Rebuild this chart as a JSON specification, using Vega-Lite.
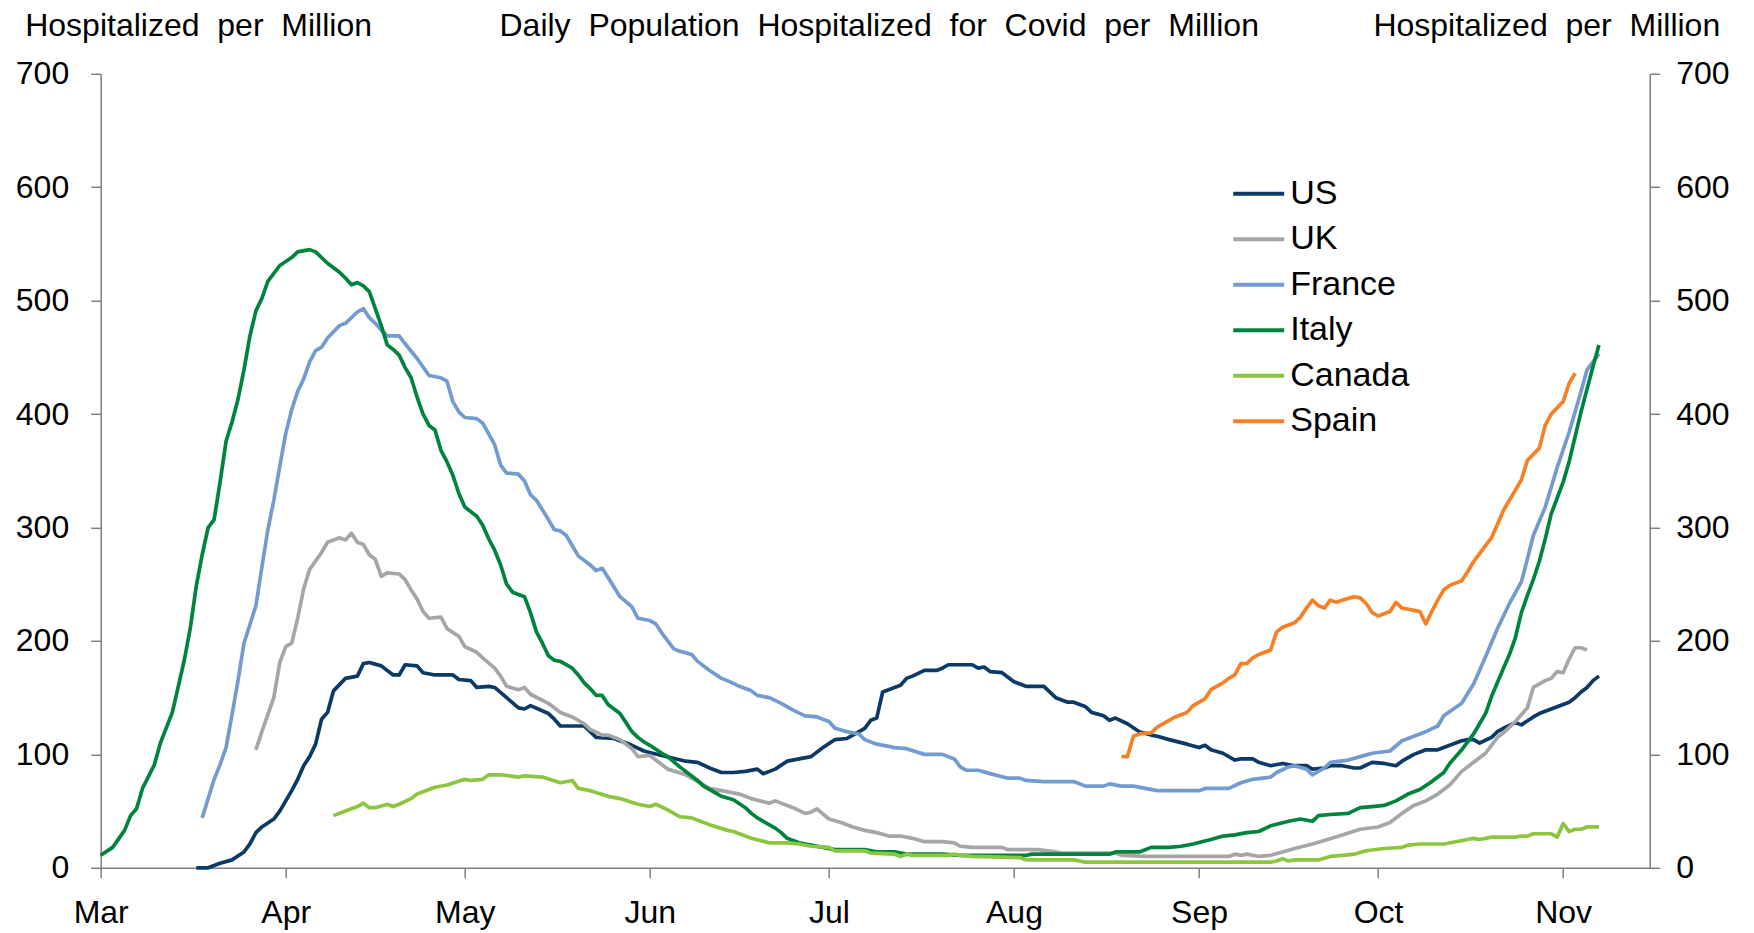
{
  "$schema": "https://vega.github.io/schema/vega-lite/v6.json",
  "width": 1549,
  "height": 794,
  "autosize": {"type": "none"},
  "padding": {"left": 100.7, "top": 73.8, "right": 104.3, "bottom": 65.2},
  "background": "white",
  "config": {"view": {"stroke": null}, "font": "Liberation Sans"},
  "data": {"values": [
    {"country":"US","date":"2020-03-17","value":0},{"country":"US","date":"2020-03-19","value":0},{"country":"US","date":"2020-03-21","value":4},{"country":"US","date":"2020-03-23","value":7},{"country":"US","date":"2020-03-25","value":14},{"country":"US","date":"2020-03-26","value":21},{"country":"US","date":"2020-03-27","value":31},{"country":"US","date":"2020-03-28","value":36},{"country":"US","date":"2020-03-30","value":43},{"country":"US","date":"2020-03-31","value":50},
    {"country":"US","date":"2020-04-01","value":59},{"country":"US","date":"2020-04-02","value":68},{"country":"US","date":"2020-04-03","value":78},{"country":"US","date":"2020-04-04","value":90},{"country":"US","date":"2020-04-05","value":98},{"country":"US","date":"2020-04-06","value":109},{"country":"US","date":"2020-04-07","value":131},{"country":"US","date":"2020-04-08","value":137},{"country":"US","date":"2020-04-09","value":156},{"country":"US","date":"2020-04-11","value":167},{"country":"US","date":"2020-04-13","value":169},{"country":"US","date":"2020-04-14","value":180},{"country":"US","date":"2020-04-15","value":181},{"country":"US","date":"2020-04-17","value":178},{"country":"US","date":"2020-04-19","value":170},{"country":"US","date":"2020-04-20","value":170},{"country":"US","date":"2020-04-21","value":179},{"country":"US","date":"2020-04-23","value":178},{"country":"US","date":"2020-04-24","value":172},{"country":"US","date":"2020-04-26","value":170},{"country":"US","date":"2020-04-29","value":170},{"country":"US","date":"2020-04-30","value":166},
    {"country":"US","date":"2020-05-02","value":165},{"country":"US","date":"2020-05-03","value":159},{"country":"US","date":"2020-05-05","value":160},{"country":"US","date":"2020-05-06","value":159},{"country":"US","date":"2020-05-08","value":150},{"country":"US","date":"2020-05-10","value":141},{"country":"US","date":"2020-05-11","value":140},{"country":"US","date":"2020-05-12","value":143},{"country":"US","date":"2020-05-15","value":136},{"country":"US","date":"2020-05-16","value":131},{"country":"US","date":"2020-05-17","value":125},{"country":"US","date":"2020-05-21","value":125},{"country":"US","date":"2020-05-23","value":115},{"country":"US","date":"2020-05-26","value":114},{"country":"US","date":"2020-05-29","value":108},{"country":"US","date":"2020-05-31","value":103},
    {"country":"US","date":"2020-06-03","value":99},{"country":"US","date":"2020-06-07","value":94},{"country":"US","date":"2020-06-09","value":93},{"country":"US","date":"2020-06-11","value":88},{"country":"US","date":"2020-06-13","value":84},{"country":"US","date":"2020-06-15","value":84},{"country":"US","date":"2020-06-17","value":85},{"country":"US","date":"2020-06-19","value":87},{"country":"US","date":"2020-06-20","value":83},{"country":"US","date":"2020-06-22","value":87},{"country":"US","date":"2020-06-24","value":94},{"country":"US","date":"2020-06-26","value":96},{"country":"US","date":"2020-06-28","value":98},{"country":"US","date":"2020-06-30","value":106},
    {"country":"US","date":"2020-07-02","value":113},{"country":"US","date":"2020-07-04","value":114},{"country":"US","date":"2020-07-05","value":117},{"country":"US","date":"2020-07-07","value":123},{"country":"US","date":"2020-07-08","value":130},{"country":"US","date":"2020-07-09","value":132},{"country":"US","date":"2020-07-10","value":155},{"country":"US","date":"2020-07-11","value":157},{"country":"US","date":"2020-07-13","value":161},{"country":"US","date":"2020-07-14","value":167},{"country":"US","date":"2020-07-15","value":169},{"country":"US","date":"2020-07-17","value":174},{"country":"US","date":"2020-07-19","value":174},{"country":"US","date":"2020-07-20","value":176},{"country":"US","date":"2020-07-21","value":179},{"country":"US","date":"2020-07-25","value":179},{"country":"US","date":"2020-07-26","value":176},{"country":"US","date":"2020-07-27","value":177},{"country":"US","date":"2020-07-28","value":173},{"country":"US","date":"2020-07-30","value":172},{"country":"US","date":"2020-07-31","value":168},
    {"country":"US","date":"2020-08-01","value":164},{"country":"US","date":"2020-08-03","value":160},{"country":"US","date":"2020-08-06","value":160},{"country":"US","date":"2020-08-08","value":150},{"country":"US","date":"2020-08-10","value":146},{"country":"US","date":"2020-08-11","value":146},{"country":"US","date":"2020-08-13","value":142},{"country":"US","date":"2020-08-14","value":137},{"country":"US","date":"2020-08-16","value":134},{"country":"US","date":"2020-08-17","value":130},{"country":"US","date":"2020-08-18","value":132},{"country":"US","date":"2020-08-20","value":127},{"country":"US","date":"2020-08-22","value":120},{"country":"US","date":"2020-08-24","value":117},{"country":"US","date":"2020-08-25","value":116},{"country":"US","date":"2020-08-27","value":113},{"country":"US","date":"2020-08-30","value":109},
    {"country":"US","date":"2020-09-01","value":106},{"country":"US","date":"2020-09-02","value":108},{"country":"US","date":"2020-09-03","value":104},{"country":"US","date":"2020-09-05","value":101},{"country":"US","date":"2020-09-07","value":95},{"country":"US","date":"2020-09-08","value":96},{"country":"US","date":"2020-09-10","value":96},{"country":"US","date":"2020-09-11","value":93},{"country":"US","date":"2020-09-13","value":90},{"country":"US","date":"2020-09-15","value":92},{"country":"US","date":"2020-09-17","value":90},{"country":"US","date":"2020-09-19","value":90},{"country":"US","date":"2020-09-20","value":87},{"country":"US","date":"2020-09-22","value":88},{"country":"US","date":"2020-09-23","value":90},{"country":"US","date":"2020-09-25","value":90},{"country":"US","date":"2020-09-27","value":88},{"country":"US","date":"2020-09-28","value":88},{"country":"US","date":"2020-09-30","value":93},
    {"country":"US","date":"2020-10-02","value":92},{"country":"US","date":"2020-10-04","value":90},{"country":"US","date":"2020-10-05","value":94},{"country":"US","date":"2020-10-07","value":100},{"country":"US","date":"2020-10-09","value":104},{"country":"US","date":"2020-10-11","value":104},{"country":"US","date":"2020-10-13","value":108},{"country":"US","date":"2020-10-15","value":112},{"country":"US","date":"2020-10-16","value":113},{"country":"US","date":"2020-10-17","value":113},{"country":"US","date":"2020-10-18","value":110},{"country":"US","date":"2020-10-20","value":115},{"country":"US","date":"2020-10-21","value":120},{"country":"US","date":"2020-10-22","value":123},{"country":"US","date":"2020-10-24","value":128},{"country":"US","date":"2020-10-25","value":126},{"country":"US","date":"2020-10-27","value":133},{"country":"US","date":"2020-10-28","value":136},{"country":"US","date":"2020-10-30","value":140},{"country":"US","date":"2020-10-31","value":142},
    {"country":"US","date":"2020-11-02","value":146},{"country":"US","date":"2020-11-03","value":150},{"country":"US","date":"2020-11-04","value":155},{"country":"US","date":"2020-11-05","value":159},{"country":"US","date":"2020-11-06","value":165},{"country":"US","date":"2020-11-07","value":169},

    {"country":"UK","date":"2020-03-27","value":104},{"country":"UK","date":"2020-03-28","value":120},{"country":"UK","date":"2020-03-30","value":150},{"country":"UK","date":"2020-03-31","value":181},
    {"country":"UK","date":"2020-04-01","value":195},{"country":"UK","date":"2020-04-02","value":198},{"country":"UK","date":"2020-04-03","value":220},{"country":"UK","date":"2020-04-04","value":246},{"country":"UK","date":"2020-04-05","value":263},{"country":"UK","date":"2020-04-07","value":278},{"country":"UK","date":"2020-04-08","value":287},{"country":"UK","date":"2020-04-10","value":291},{"country":"UK","date":"2020-04-11","value":289},{"country":"UK","date":"2020-04-12","value":295},{"country":"UK","date":"2020-04-13","value":287},{"country":"UK","date":"2020-04-14","value":285},{"country":"UK","date":"2020-04-15","value":276},{"country":"UK","date":"2020-04-16","value":272},{"country":"UK","date":"2020-04-17","value":257},{"country":"UK","date":"2020-04-18","value":260},{"country":"UK","date":"2020-04-20","value":259},{"country":"UK","date":"2020-04-21","value":254},{"country":"UK","date":"2020-04-22","value":245},{"country":"UK","date":"2020-04-23","value":237},{"country":"UK","date":"2020-04-24","value":226},{"country":"UK","date":"2020-04-25","value":220},{"country":"UK","date":"2020-04-27","value":221},{"country":"UK","date":"2020-04-28","value":211},{"country":"UK","date":"2020-04-30","value":204},
    {"country":"UK","date":"2020-05-01","value":195},{"country":"UK","date":"2020-05-03","value":190},{"country":"UK","date":"2020-05-04","value":185},{"country":"UK","date":"2020-05-06","value":176},{"country":"UK","date":"2020-05-07","value":169},{"country":"UK","date":"2020-05-08","value":160},{"country":"UK","date":"2020-05-10","value":157},{"country":"UK","date":"2020-05-11","value":159},{"country":"UK","date":"2020-05-12","value":153},{"country":"UK","date":"2020-05-15","value":145},{"country":"UK","date":"2020-05-17","value":137},{"country":"UK","date":"2020-05-19","value":133},{"country":"UK","date":"2020-05-21","value":127},{"country":"UK","date":"2020-05-22","value":122},{"country":"UK","date":"2020-05-24","value":117},{"country":"UK","date":"2020-05-25","value":117},{"country":"UK","date":"2020-05-27","value":113},{"country":"UK","date":"2020-05-29","value":105},{"country":"UK","date":"2020-05-30","value":98},
    {"country":"UK","date":"2020-06-01","value":99},{"country":"UK","date":"2020-06-02","value":95},{"country":"UK","date":"2020-06-04","value":87},{"country":"UK","date":"2020-06-07","value":82},{"country":"UK","date":"2020-06-08","value":79},{"country":"UK","date":"2020-06-11","value":70},{"country":"UK","date":"2020-06-13","value":68},{"country":"UK","date":"2020-06-16","value":65},{"country":"UK","date":"2020-06-18","value":61},{"country":"UK","date":"2020-06-21","value":57},{"country":"UK","date":"2020-06-22","value":59},{"country":"UK","date":"2020-06-25","value":53},{"country":"UK","date":"2020-06-27","value":48},{"country":"UK","date":"2020-06-28","value":49},{"country":"UK","date":"2020-06-29","value":52},
    {"country":"UK","date":"2020-07-01","value":43},{"country":"UK","date":"2020-07-03","value":40},{"country":"UK","date":"2020-07-04","value":38},{"country":"UK","date":"2020-07-05","value":36},{"country":"UK","date":"2020-07-07","value":33},{"country":"UK","date":"2020-07-09","value":31},{"country":"UK","date":"2020-07-11","value":28},{"country":"UK","date":"2020-07-13","value":28},{"country":"UK","date":"2020-07-15","value":26},{"country":"UK","date":"2020-07-17","value":23},{"country":"UK","date":"2020-07-20","value":23},{"country":"UK","date":"2020-07-22","value":22},{"country":"UK","date":"2020-07-23","value":19},{"country":"UK","date":"2020-07-25","value":18},{"country":"UK","date":"2020-07-30","value":18},{"country":"UK","date":"2020-07-31","value":16},
    {"country":"UK","date":"2020-08-05","value":16},{"country":"UK","date":"2020-08-08","value":14},{"country":"UK","date":"2020-08-09","value":13},{"country":"UK","date":"2020-08-18","value":13},{"country":"UK","date":"2020-08-19","value":11},{"country":"UK","date":"2020-08-23","value":10},
    {"country":"UK","date":"2020-09-06","value":10},{"country":"UK","date":"2020-09-07","value":12},{"country":"UK","date":"2020-09-08","value":11},{"country":"UK","date":"2020-09-09","value":12},{"country":"UK","date":"2020-09-11","value":10},{"country":"UK","date":"2020-09-13","value":11},{"country":"UK","date":"2020-09-15","value":14},{"country":"UK","date":"2020-09-17","value":17},{"country":"UK","date":"2020-09-20","value":21},{"country":"UK","date":"2020-09-22","value":24},{"country":"UK","date":"2020-09-25","value":29},{"country":"UK","date":"2020-09-28","value":34},
    {"country":"UK","date":"2020-10-01","value":36},{"country":"UK","date":"2020-10-03","value":40},{"country":"UK","date":"2020-10-05","value":48},{"country":"UK","date":"2020-10-07","value":55},{"country":"UK","date":"2020-10-09","value":59},{"country":"UK","date":"2020-10-11","value":65},{"country":"UK","date":"2020-10-13","value":73},{"country":"UK","date":"2020-10-15","value":85},{"country":"UK","date":"2020-10-17","value":93},{"country":"UK","date":"2020-10-19","value":101},{"country":"UK","date":"2020-10-21","value":115},{"country":"UK","date":"2020-10-22","value":119},{"country":"UK","date":"2020-10-24","value":129},{"country":"UK","date":"2020-10-26","value":141},{"country":"UK","date":"2020-10-27","value":159},{"country":"UK","date":"2020-10-29","value":165},{"country":"UK","date":"2020-10-30","value":167},{"country":"UK","date":"2020-10-31","value":173},
    {"country":"UK","date":"2020-11-01","value":172},{"country":"UK","date":"2020-11-02","value":184},{"country":"UK","date":"2020-11-03","value":194},{"country":"UK","date":"2020-11-04","value":194},{"country":"UK","date":"2020-11-05","value":192},

    {"country":"France","date":"2020-03-18","value":44},{"country":"France","date":"2020-03-20","value":78},{"country":"France","date":"2020-03-21","value":91},{"country":"France","date":"2020-03-22","value":106},{"country":"France","date":"2020-03-23","value":135},{"country":"France","date":"2020-03-24","value":165},{"country":"France","date":"2020-03-25","value":198},{"country":"France","date":"2020-03-27","value":231},{"country":"France","date":"2020-03-28","value":265},{"country":"France","date":"2020-03-29","value":298},{"country":"France","date":"2020-03-30","value":324},{"country":"France","date":"2020-03-31","value":354},
    {"country":"France","date":"2020-04-01","value":383},{"country":"France","date":"2020-04-02","value":404},{"country":"France","date":"2020-04-03","value":420},{"country":"France","date":"2020-04-04","value":431},{"country":"France","date":"2020-04-05","value":446},{"country":"France","date":"2020-04-06","value":456},{"country":"France","date":"2020-04-07","value":459},{"country":"France","date":"2020-04-08","value":467},{"country":"France","date":"2020-04-10","value":478},{"country":"France","date":"2020-04-11","value":480},{"country":"France","date":"2020-04-13","value":490},{"country":"France","date":"2020-04-14","value":493},{"country":"France","date":"2020-04-15","value":485},{"country":"France","date":"2020-04-16","value":480},{"country":"France","date":"2020-04-17","value":474},{"country":"France","date":"2020-04-18","value":469},{"country":"France","date":"2020-04-20","value":469},{"country":"France","date":"2020-04-21","value":462},{"country":"France","date":"2020-04-23","value":449},{"country":"France","date":"2020-04-25","value":434},{"country":"France","date":"2020-04-27","value":432},{"country":"France","date":"2020-04-28","value":429},{"country":"France","date":"2020-04-29","value":411},{"country":"France","date":"2020-04-30","value":402},
    {"country":"France","date":"2020-05-01","value":397},{"country":"France","date":"2020-05-03","value":396},{"country":"France","date":"2020-05-04","value":392},{"country":"France","date":"2020-05-06","value":373},{"country":"France","date":"2020-05-07","value":355},{"country":"France","date":"2020-05-08","value":348},{"country":"France","date":"2020-05-10","value":347},{"country":"France","date":"2020-05-11","value":341},{"country":"France","date":"2020-05-12","value":329},{"country":"France","date":"2020-05-13","value":324},{"country":"France","date":"2020-05-15","value":307},{"country":"France","date":"2020-05-16","value":298},{"country":"France","date":"2020-05-17","value":297},{"country":"France","date":"2020-05-18","value":293},{"country":"France","date":"2020-05-20","value":275},{"country":"France","date":"2020-05-22","value":267},{"country":"France","date":"2020-05-23","value":262},{"country":"France","date":"2020-05-24","value":264},{"country":"France","date":"2020-05-25","value":256},{"country":"France","date":"2020-05-27","value":239},{"country":"France","date":"2020-05-29","value":230},{"country":"France","date":"2020-05-30","value":220},
    {"country":"France","date":"2020-06-01","value":218},{"country":"France","date":"2020-06-02","value":215},{"country":"France","date":"2020-06-03","value":207},{"country":"France","date":"2020-06-04","value":200},{"country":"France","date":"2020-06-05","value":193},{"country":"France","date":"2020-06-06","value":191},{"country":"France","date":"2020-06-08","value":188},{"country":"France","date":"2020-06-09","value":182},{"country":"France","date":"2020-06-11","value":174},{"country":"France","date":"2020-06-13","value":167},{"country":"France","date":"2020-06-14","value":165},{"country":"France","date":"2020-06-16","value":160},{"country":"France","date":"2020-06-18","value":156},{"country":"France","date":"2020-06-19","value":152},{"country":"France","date":"2020-06-21","value":150},{"country":"France","date":"2020-06-23","value":145},{"country":"France","date":"2020-06-25","value":139},{"country":"France","date":"2020-06-27","value":134},{"country":"France","date":"2020-06-29","value":133},
    {"country":"France","date":"2020-07-01","value":129},{"country":"France","date":"2020-07-02","value":123},{"country":"France","date":"2020-07-04","value":120},{"country":"France","date":"2020-07-06","value":118},{"country":"France","date":"2020-07-07","value":113},{"country":"France","date":"2020-07-09","value":109},{"country":"France","date":"2020-07-11","value":107},{"country":"France","date":"2020-07-12","value":106},{"country":"France","date":"2020-07-14","value":105},{"country":"France","date":"2020-07-17","value":100},{"country":"France","date":"2020-07-20","value":100},{"country":"France","date":"2020-07-22","value":96},{"country":"France","date":"2020-07-23","value":89},{"country":"France","date":"2020-07-24","value":86},{"country":"France","date":"2020-07-26","value":86},{"country":"France","date":"2020-07-28","value":83},{"country":"France","date":"2020-07-31","value":79},
    {"country":"France","date":"2020-08-02","value":79},{"country":"France","date":"2020-08-03","value":77},{"country":"France","date":"2020-08-06","value":76},{"country":"France","date":"2020-08-11","value":76},{"country":"France","date":"2020-08-13","value":72},{"country":"France","date":"2020-08-16","value":72},{"country":"France","date":"2020-08-17","value":74},{"country":"France","date":"2020-08-19","value":72},{"country":"France","date":"2020-08-21","value":72},{"country":"France","date":"2020-08-23","value":70},{"country":"France","date":"2020-08-25","value":68},
    {"country":"France","date":"2020-09-01","value":68},{"country":"France","date":"2020-09-02","value":70},{"country":"France","date":"2020-09-06","value":70},{"country":"France","date":"2020-09-08","value":75},{"country":"France","date":"2020-09-10","value":78},{"country":"France","date":"2020-09-13","value":80},{"country":"France","date":"2020-09-14","value":84},{"country":"France","date":"2020-09-16","value":89},{"country":"France","date":"2020-09-17","value":90},{"country":"France","date":"2020-09-19","value":87},{"country":"France","date":"2020-09-20","value":82},{"country":"France","date":"2020-09-22","value":88},{"country":"France","date":"2020-09-23","value":93},{"country":"France","date":"2020-09-26","value":95},{"country":"France","date":"2020-09-28","value":98},{"country":"France","date":"2020-09-30","value":101},
    {"country":"France","date":"2020-10-03","value":103},{"country":"France","date":"2020-10-05","value":112},{"country":"France","date":"2020-10-07","value":116},{"country":"France","date":"2020-10-09","value":120},{"country":"France","date":"2020-10-11","value":125},{"country":"France","date":"2020-10-12","value":134},{"country":"France","date":"2020-10-15","value":145},{"country":"France","date":"2020-10-17","value":162},{"country":"France","date":"2020-10-19","value":186},{"country":"France","date":"2020-10-21","value":211},{"country":"France","date":"2020-10-23","value":233},{"country":"France","date":"2020-10-25","value":252},{"country":"France","date":"2020-10-26","value":272},{"country":"France","date":"2020-10-27","value":293},{"country":"France","date":"2020-10-29","value":318},{"country":"France","date":"2020-10-31","value":353},
    {"country":"France","date":"2020-11-02","value":384},{"country":"France","date":"2020-11-04","value":420},{"country":"France","date":"2020-11-05","value":439},{"country":"France","date":"2020-11-07","value":453},

    {"country":"Italy","date":"2020-03-01","value":11},{"country":"Italy","date":"2020-03-03","value":18},{"country":"Italy","date":"2020-03-05","value":33},{"country":"Italy","date":"2020-03-06","value":46},{"country":"Italy","date":"2020-03-07","value":52},{"country":"Italy","date":"2020-03-08","value":70},{"country":"Italy","date":"2020-03-10","value":91},{"country":"Italy","date":"2020-03-11","value":110},{"country":"Italy","date":"2020-03-13","value":137},{"country":"Italy","date":"2020-03-14","value":160},{"country":"Italy","date":"2020-03-15","value":183},{"country":"Italy","date":"2020-03-16","value":211},{"country":"Italy","date":"2020-03-17","value":248},{"country":"Italy","date":"2020-03-18","value":276},{"country":"Italy","date":"2020-03-19","value":300},{"country":"Italy","date":"2020-03-20","value":307},{"country":"Italy","date":"2020-03-21","value":340},{"country":"Italy","date":"2020-03-22","value":376},{"country":"Italy","date":"2020-03-23","value":393},{"country":"Italy","date":"2020-03-24","value":413},{"country":"Italy","date":"2020-03-25","value":439},{"country":"Italy","date":"2020-03-26","value":469},{"country":"Italy","date":"2020-03-27","value":491},{"country":"Italy","date":"2020-03-28","value":502},{"country":"Italy","date":"2020-03-29","value":517},{"country":"Italy","date":"2020-03-31","value":531},
    {"country":"Italy","date":"2020-04-02","value":538},{"country":"Italy","date":"2020-04-03","value":543},{"country":"Italy","date":"2020-04-05","value":545},{"country":"Italy","date":"2020-04-06","value":543},{"country":"Italy","date":"2020-04-08","value":533},{"country":"Italy","date":"2020-04-10","value":525},{"country":"Italy","date":"2020-04-11","value":520},{"country":"Italy","date":"2020-04-12","value":514},{"country":"Italy","date":"2020-04-13","value":516},{"country":"Italy","date":"2020-04-14","value":513},{"country":"Italy","date":"2020-04-15","value":508},{"country":"Italy","date":"2020-04-17","value":478},{"country":"Italy","date":"2020-04-18","value":461},{"country":"Italy","date":"2020-04-19","value":457},{"country":"Italy","date":"2020-04-20","value":452},{"country":"Italy","date":"2020-04-21","value":441},{"country":"Italy","date":"2020-04-22","value":432},{"country":"Italy","date":"2020-04-23","value":415},{"country":"Italy","date":"2020-04-24","value":400},{"country":"Italy","date":"2020-04-25","value":390},{"country":"Italy","date":"2020-04-26","value":386},{"country":"Italy","date":"2020-04-27","value":368},{"country":"Italy","date":"2020-04-28","value":358},{"country":"Italy","date":"2020-04-29","value":346},{"country":"Italy","date":"2020-04-30","value":330},
    {"country":"Italy","date":"2020-05-01","value":318},{"country":"Italy","date":"2020-05-03","value":310},{"country":"Italy","date":"2020-05-04","value":302},{"country":"Italy","date":"2020-05-05","value":290},{"country":"Italy","date":"2020-05-06","value":280},{"country":"Italy","date":"2020-05-07","value":267},{"country":"Italy","date":"2020-05-08","value":250},{"country":"Italy","date":"2020-05-09","value":243},{"country":"Italy","date":"2020-05-11","value":239},{"country":"Italy","date":"2020-05-12","value":225},{"country":"Italy","date":"2020-05-13","value":208},{"country":"Italy","date":"2020-05-14","value":198},{"country":"Italy","date":"2020-05-15","value":187},{"country":"Italy","date":"2020-05-16","value":183},{"country":"Italy","date":"2020-05-17","value":182},{"country":"Italy","date":"2020-05-19","value":176},{"country":"Italy","date":"2020-05-20","value":170},{"country":"Italy","date":"2020-05-21","value":163},{"country":"Italy","date":"2020-05-22","value":158},{"country":"Italy","date":"2020-05-23","value":152},{"country":"Italy","date":"2020-05-24","value":152},{"country":"Italy","date":"2020-05-25","value":144},{"country":"Italy","date":"2020-05-27","value":136},{"country":"Italy","date":"2020-05-28","value":128},{"country":"Italy","date":"2020-05-29","value":120},{"country":"Italy","date":"2020-05-30","value":115},{"country":"Italy","date":"2020-05-31","value":111},
    {"country":"Italy","date":"2020-06-01","value":108},{"country":"Italy","date":"2020-06-03","value":101},{"country":"Italy","date":"2020-06-04","value":98},{"country":"Italy","date":"2020-06-06","value":89},{"country":"Italy","date":"2020-06-08","value":81},{"country":"Italy","date":"2020-06-09","value":77},{"country":"Italy","date":"2020-06-10","value":72},{"country":"Italy","date":"2020-06-12","value":66},{"country":"Italy","date":"2020-06-13","value":63},{"country":"Italy","date":"2020-06-15","value":60},{"country":"Italy","date":"2020-06-17","value":53},{"country":"Italy","date":"2020-06-18","value":48},{"country":"Italy","date":"2020-06-19","value":44},{"country":"Italy","date":"2020-06-20","value":41},{"country":"Italy","date":"2020-06-22","value":35},{"country":"Italy","date":"2020-06-23","value":31},{"country":"Italy","date":"2020-06-24","value":26},{"country":"Italy","date":"2020-06-26","value":22},{"country":"Italy","date":"2020-06-28","value":20},{"country":"Italy","date":"2020-06-30","value":18},
    {"country":"Italy","date":"2020-07-02","value":16},{"country":"Italy","date":"2020-07-07","value":16},{"country":"Italy","date":"2020-07-09","value":14},{"country":"Italy","date":"2020-07-12","value":14},{"country":"Italy","date":"2020-07-14","value":12},{"country":"Italy","date":"2020-07-20","value":12},{"country":"Italy","date":"2020-07-23","value":11},
    {"country":"Italy","date":"2020-08-03","value":11},{"country":"Italy","date":"2020-08-04","value":12},{"country":"Italy","date":"2020-08-17","value":12},{"country":"Italy","date":"2020-08-18","value":14},{"country":"Italy","date":"2020-08-22","value":14},{"country":"Italy","date":"2020-08-24","value":18},{"country":"Italy","date":"2020-08-27","value":18},{"country":"Italy","date":"2020-08-29","value":19},{"country":"Italy","date":"2020-08-31","value":21},
    {"country":"Italy","date":"2020-09-03","value":25},{"country":"Italy","date":"2020-09-05","value":28},{"country":"Italy","date":"2020-09-07","value":29},{"country":"Italy","date":"2020-09-09","value":31},{"country":"Italy","date":"2020-09-11","value":32},{"country":"Italy","date":"2020-09-13","value":37},{"country":"Italy","date":"2020-09-16","value":41},{"country":"Italy","date":"2020-09-18","value":43},{"country":"Italy","date":"2020-09-20","value":41},{"country":"Italy","date":"2020-09-21","value":46},{"country":"Italy","date":"2020-09-23","value":47},{"country":"Italy","date":"2020-09-26","value":48},{"country":"Italy","date":"2020-09-28","value":53},{"country":"Italy","date":"2020-09-30","value":54},
    {"country":"Italy","date":"2020-10-02","value":55},{"country":"Italy","date":"2020-10-04","value":59},{"country":"Italy","date":"2020-10-06","value":65},{"country":"Italy","date":"2020-10-08","value":69},{"country":"Italy","date":"2020-10-10","value":76},{"country":"Italy","date":"2020-10-12","value":84},{"country":"Italy","date":"2020-10-13","value":92},{"country":"Italy","date":"2020-10-15","value":104},{"country":"Italy","date":"2020-10-17","value":118},{"country":"Italy","date":"2020-10-19","value":136},{"country":"Italy","date":"2020-10-20","value":151},{"country":"Italy","date":"2020-10-22","value":176},{"country":"Italy","date":"2020-10-23","value":188},{"country":"Italy","date":"2020-10-24","value":203},{"country":"Italy","date":"2020-10-25","value":225},{"country":"Italy","date":"2020-10-26","value":240},{"country":"Italy","date":"2020-10-27","value":254},{"country":"Italy","date":"2020-10-28","value":270},{"country":"Italy","date":"2020-10-29","value":290},{"country":"Italy","date":"2020-10-30","value":312},{"country":"Italy","date":"2020-10-31","value":326},
    {"country":"Italy","date":"2020-11-01","value":340},{"country":"Italy","date":"2020-11-02","value":358},{"country":"Italy","date":"2020-11-03","value":380},{"country":"Italy","date":"2020-11-04","value":402},{"country":"Italy","date":"2020-11-05","value":422},{"country":"Italy","date":"2020-11-06","value":442},{"country":"Italy","date":"2020-11-07","value":461},

    {"country":"Canada","date":"2020-04-09","value":46},{"country":"Canada","date":"2020-04-11","value":50},{"country":"Canada","date":"2020-04-13","value":54},{"country":"Canada","date":"2020-04-14","value":57},{"country":"Canada","date":"2020-04-15","value":53},{"country":"Canada","date":"2020-04-16","value":53},{"country":"Canada","date":"2020-04-18","value":56},{"country":"Canada","date":"2020-04-19","value":54},{"country":"Canada","date":"2020-04-20","value":56},{"country":"Canada","date":"2020-04-22","value":61},{"country":"Canada","date":"2020-04-23","value":65},{"country":"Canada","date":"2020-04-26","value":71},{"country":"Canada","date":"2020-04-28","value":73},
    {"country":"Canada","date":"2020-05-01","value":78},{"country":"Canada","date":"2020-05-02","value":77},{"country":"Canada","date":"2020-05-04","value":78},{"country":"Canada","date":"2020-05-05","value":82},{"country":"Canada","date":"2020-05-07","value":82},{"country":"Canada","date":"2020-05-10","value":80},{"country":"Canada","date":"2020-05-11","value":81},{"country":"Canada","date":"2020-05-14","value":80},{"country":"Canada","date":"2020-05-17","value":75},{"country":"Canada","date":"2020-05-19","value":77},{"country":"Canada","date":"2020-05-20","value":70},{"country":"Canada","date":"2020-05-22","value":68},{"country":"Canada","date":"2020-05-25","value":63},{"country":"Canada","date":"2020-05-27","value":61},{"country":"Canada","date":"2020-05-30","value":56},
    {"country":"Canada","date":"2020-06-01","value":54},{"country":"Canada","date":"2020-06-02","value":56},{"country":"Canada","date":"2020-06-04","value":51},{"country":"Canada","date":"2020-06-06","value":45},{"country":"Canada","date":"2020-06-08","value":44},{"country":"Canada","date":"2020-06-11","value":38},{"country":"Canada","date":"2020-06-14","value":33},{"country":"Canada","date":"2020-06-15","value":32},{"country":"Canada","date":"2020-06-18","value":26},{"country":"Canada","date":"2020-06-21","value":22},{"country":"Canada","date":"2020-06-24","value":22},{"country":"Canada","date":"2020-06-26","value":21},{"country":"Canada","date":"2020-06-28","value":19},
    {"country":"Canada","date":"2020-07-01","value":18},{"country":"Canada","date":"2020-07-02","value":15},{"country":"Canada","date":"2020-07-07","value":15},{"country":"Canada","date":"2020-07-08","value":13},{"country":"Canada","date":"2020-07-12","value":12},{"country":"Canada","date":"2020-07-13","value":10},{"country":"Canada","date":"2020-07-14","value":12},{"country":"Canada","date":"2020-07-15","value":11},{"country":"Canada","date":"2020-07-21","value":11},{"country":"Canada","date":"2020-07-22","value":12},{"country":"Canada","date":"2020-07-23","value":11},{"country":"Canada","date":"2020-07-25","value":10},
    {"country":"Canada","date":"2020-08-02","value":9},{"country":"Canada","date":"2020-08-03","value":7},{"country":"Canada","date":"2020-08-11","value":7},{"country":"Canada","date":"2020-08-13","value":5},
    {"country":"Canada","date":"2020-09-13","value":5},{"country":"Canada","date":"2020-09-14","value":6},{"country":"Canada","date":"2020-09-15","value":8},{"country":"Canada","date":"2020-09-16","value":6},{"country":"Canada","date":"2020-09-17","value":7},{"country":"Canada","date":"2020-09-21","value":7},{"country":"Canada","date":"2020-09-23","value":10},{"country":"Canada","date":"2020-09-25","value":11},{"country":"Canada","date":"2020-09-27","value":12},{"country":"Canada","date":"2020-09-29","value":15},
    {"country":"Canada","date":"2020-10-02","value":17},{"country":"Canada","date":"2020-10-05","value":18},{"country":"Canada","date":"2020-10-06","value":20},{"country":"Canada","date":"2020-10-08","value":21},{"country":"Canada","date":"2020-10-12","value":21},{"country":"Canada","date":"2020-10-14","value":23},{"country":"Canada","date":"2020-10-16","value":25},{"country":"Canada","date":"2020-10-17","value":26},{"country":"Canada","date":"2020-10-18","value":25},{"country":"Canada","date":"2020-10-20","value":27},{"country":"Canada","date":"2020-10-24","value":27},{"country":"Canada","date":"2020-10-25","value":28},{"country":"Canada","date":"2020-10-26","value":28},{"country":"Canada","date":"2020-10-27","value":30},{"country":"Canada","date":"2020-10-30","value":30},{"country":"Canada","date":"2020-10-31","value":27},
    {"country":"Canada","date":"2020-11-01","value":39},{"country":"Canada","date":"2020-11-02","value":32},{"country":"Canada","date":"2020-11-03","value":34},{"country":"Canada","date":"2020-11-04","value":34},{"country":"Canada","date":"2020-11-05","value":36},{"country":"Canada","date":"2020-11-07","value":36},

    {"country":"Spain","date":"2020-08-19","value":98},{"country":"Spain","date":"2020-08-20","value":98},{"country":"Spain","date":"2020-08-21","value":116},{"country":"Spain","date":"2020-08-22","value":118},{"country":"Spain","date":"2020-08-24","value":119},{"country":"Spain","date":"2020-08-25","value":124},{"country":"Spain","date":"2020-08-27","value":130},{"country":"Spain","date":"2020-08-28","value":133},{"country":"Spain","date":"2020-08-30","value":137},{"country":"Spain","date":"2020-08-31","value":143},
    {"country":"Spain","date":"2020-09-02","value":149},{"country":"Spain","date":"2020-09-03","value":157},{"country":"Spain","date":"2020-09-05","value":163},{"country":"Spain","date":"2020-09-06","value":167},{"country":"Spain","date":"2020-09-07","value":170},{"country":"Spain","date":"2020-09-08","value":180},{"country":"Spain","date":"2020-09-09","value":180},{"country":"Spain","date":"2020-09-10","value":185},{"country":"Spain","date":"2020-09-11","value":188},{"country":"Spain","date":"2020-09-13","value":192},{"country":"Spain","date":"2020-09-14","value":208},{"country":"Spain","date":"2020-09-15","value":212},{"country":"Spain","date":"2020-09-17","value":216},{"country":"Spain","date":"2020-09-18","value":221},{"country":"Spain","date":"2020-09-19","value":229},{"country":"Spain","date":"2020-09-20","value":236},{"country":"Spain","date":"2020-09-21","value":231},{"country":"Spain","date":"2020-09-22","value":229},{"country":"Spain","date":"2020-09-23","value":236},{"country":"Spain","date":"2020-09-24","value":234},{"country":"Spain","date":"2020-09-25","value":236},{"country":"Spain","date":"2020-09-27","value":239},{"country":"Spain","date":"2020-09-28","value":238},{"country":"Spain","date":"2020-09-29","value":233},{"country":"Spain","date":"2020-09-30","value":225},
    {"country":"Spain","date":"2020-10-01","value":222},{"country":"Spain","date":"2020-10-03","value":226},{"country":"Spain","date":"2020-10-04","value":234},{"country":"Spain","date":"2020-10-05","value":229},{"country":"Spain","date":"2020-10-07","value":227},{"country":"Spain","date":"2020-10-08","value":226},{"country":"Spain","date":"2020-10-09","value":215},{"country":"Spain","date":"2020-10-10","value":226},{"country":"Spain","date":"2020-10-11","value":236},{"country":"Spain","date":"2020-10-12","value":245},{"country":"Spain","date":"2020-10-13","value":249},{"country":"Spain","date":"2020-10-15","value":253},{"country":"Spain","date":"2020-10-16","value":261},{"country":"Spain","date":"2020-10-17","value":270},{"country":"Spain","date":"2020-10-20","value":291},{"country":"Spain","date":"2020-10-22","value":315},{"country":"Spain","date":"2020-10-25","value":342},{"country":"Spain","date":"2020-10-26","value":359},{"country":"Spain","date":"2020-10-28","value":370},{"country":"Spain","date":"2020-10-29","value":390},{"country":"Spain","date":"2020-10-30","value":400},
    {"country":"Spain","date":"2020-11-01","value":411},{"country":"Spain","date":"2020-11-02","value":427},{"country":"Spain","date":"2020-11-03","value":436}
  ]},
  "encoding": {
    "x": {
      "field": "date", "type": "temporal",
      "scale": {"type": "utc", "domain": [{"year": 2020, "month": 3, "date": 1, "utc": true}, {"year": 2020, "month": 11, "date": 15, "hours": 12, "utc": true}]},
      "axis": {
        "values": [
          {"year": 2020, "month": 3, "date": 1, "utc": true},
          {"year": 2020, "month": 4, "date": 1, "utc": true},
          {"year": 2020, "month": 5, "date": 1, "utc": true},
          {"year": 2020, "month": 6, "date": 1, "utc": true},
          {"year": 2020, "month": 7, "date": 1, "utc": true},
          {"year": 2020, "month": 8, "date": 1, "utc": true},
          {"year": 2020, "month": 9, "date": 1, "utc": true},
          {"year": 2020, "month": 10, "date": 1, "utc": true},
          {"year": 2020, "month": 11, "date": 1, "utc": true}
        ],
        "labelExpr": "utcFormat(datum.value, '%b')",
        "grid": false,
        "domainColor": "#7f7f7f", "domainWidth": 1.5,
        "tickColor": "#7f7f7f", "tickWidth": 1.5, "tickSize": 10,
        "labelFont": "Liberation Sans", "labelFontSize": 32, "labelColor": "#000000", "labelPadding": 20,
        "labelFlush": false, "labelOverlap": false,
        "title": "Daily\u00a0 Population\u00a0 Hospitalized\u00a0 for\u00a0 Covid\u00a0 per\u00a0 Million",
        "titleFont": "Liberation Sans", "titleFontSize": 32, "titleFontWeight": "normal", "titleColor": "#000000",
        "titleX": 778, "titleY": -832, "titleAlign": "center", "titleBaseline": "alphabetic", "titleAnchor": null
      }
    }
  },
  "layer": [
    {
      "mark": {"type": "line", "strokeWidth": 3.7, "strokeJoin": "round", "strokeCap": "butt"},
      "encoding": {
        "y": {
          "field": "value", "type": "quantitative",
          "scale": {"domain": [0, 700], "nice": false, "zero": true},
          "axis": {
            "orient": "left",
            "values": [0, 100, 200, 300, 400, 500, 600, 700],
            "grid": false,
            "domainColor": "#7f7f7f", "domainWidth": 1.5,
            "tickColor": "#7f7f7f", "tickWidth": 1.5, "tickSize": 10,
            "labelFont": "Liberation Sans", "labelFontSize": 32, "labelColor": "#000000", "labelPadding": 22,
            "labelFlush": false, "labelOverlap": false,
            "title": "Hospitalized\u00a0 per\u00a0 Million",
            "titleFont": "Liberation Sans", "titleFontSize": 32, "titleFontWeight": "normal", "titleColor": "#000000",
            "titleAngle": 0, "titleX": -76, "titleY": -38, "titleAlign": "left", "titleBaseline": "alphabetic", "titleAnchor": null
          }
        },
        "color": {
          "field": "country", "type": "nominal",
          "scale": {"domain": ["US", "UK", "France", "Italy", "Canada", "Spain"], "range": ["#0b3a66", "#a6a6a6", "#739bd0", "#00843d", "#8cc63f", "#f68026"]},
          "legend": {
            "orient": "none", "legendX": 1141, "legendY": 103, "direction": "vertical",
            "title": null, "padding": 0,
            "symbolType": "M-2,0L2,0", "symbolSize": 650, "symbolStrokeWidth": 4,
            "labelFont": "Liberation Sans", "labelFontSize": 34, "labelColor": "#000000", "labelOffset": 14.5, "labelLimit": 400,
            "rowPadding": 11.5
          }
        }
      }
    },
    {
      "mark": {"type": "line", "opacity": 0},
      "encoding": {
        "y": {
          "field": "value", "type": "quantitative",
          "scale": {"domain": [0, 700], "nice": false, "zero": true},
          "axis": {
            "orient": "right",
            "values": [0, 100, 200, 300, 400, 500, 600, 700],
            "grid": false,
            "domainColor": "#7f7f7f", "domainWidth": 1.5,
            "tickColor": "#7f7f7f", "tickWidth": 1.5, "tickSize": 10,
            "labelFont": "Liberation Sans", "labelFontSize": 32, "labelColor": "#000000", "labelPadding": 16,
            "labelFlush": false, "labelOverlap": false,
            "title": "Hospitalized\u00a0 per\u00a0 Million",
            "titleFont": "Liberation Sans", "titleFontSize": 32, "titleFontWeight": "normal", "titleColor": "#000000",
            "titleAngle": 0, "titleX": 70, "titleY": -38, "titleAlign": "right", "titleBaseline": "alphabetic", "titleAnchor": null
          }
        }
      }
    }
  ],
  "resolve": {"axis": {"y": "independent"}}
}
